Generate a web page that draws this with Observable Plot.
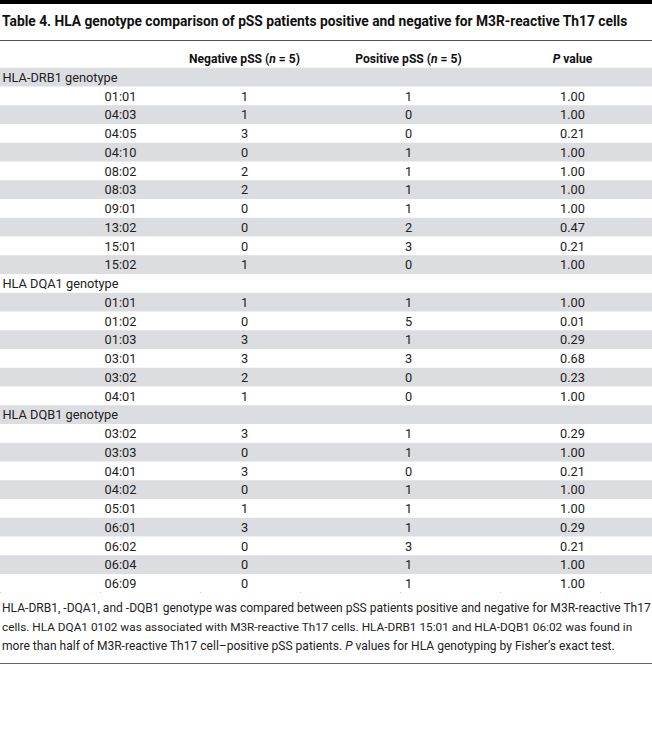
<!DOCTYPE html>
<html>
<head>
<meta charset="utf-8">
<script src="https://cdn.jsdelivr.net/npm/d3@7"></script>
<script src="https://cdn.jsdelivr.net/npm/@observablehq/plot@0.6"></script>
<style>
  body { margin: 0; background: #fff; width: 652px; height: 732px; position: relative; overflow: hidden;
         font-family: Roboto, "Liberation Sans", sans-serif; color: #222; }
  #bar { position: absolute; left: 0; top: 0; width: 652px; height: 4px; background: #000; }
  #title { position: absolute; left: 2px; top: 12px; font-weight: bold; font-size: 13.5px; line-height: 18px; color: #111; }
  #rule1 { position: absolute; left: 0; top: 39.5px; width: 652px; height: 1px; background: #555; }
  #chart { position: absolute; left: 0; top: 49px; line-height: 0; }
  #note { position: absolute; left: 2px; top: 598.5px; width: 650px; font-size: 12.5px; line-height: 19px; color: #222; }
  .fit { white-space: nowrap; width: max-content; }
  #rule2 { position: absolute; left: 0; top: 662.5px; width: 652px; height: 1.5px; background: #666; }
</style>
</head>
<body>
<div id="bar"></div>
<div id="title" class="fit" data-w="626">Table 4. HLA genotype comparison of pSS patients positive and negative for M3R-reactive Th17 cells</div>
<div id="rule1"></div>
<div id="chart"></div>
<div id="note">
  <div class="fit" data-w="649">HLA-DRB1, -DQA1, and -DQB1 genotype was compared between pSS patients positive and negative for M3R-reactive Th17</div>
  <div class="fit" data-w="631">cells. HLA DQA1 0102 was associated with M3R-reactive Th17 cells. HLA-DRB1 15:01 and HLA-DQB1 06:02 was found in</div>
  <div class="fit" data-w="613">more than half of M3R-reactive Th17 cell–positive pSS patients. <i>P</i> values for HLA genotyping by Fisher’s exact test.</div>
</div>
<div id="rule2"></div>
<script>
// ---- data ----
const columns = ["allele", "neg", "pos", "p"];
const headerLabels = ["", "Negative pSS (n = 5)", "Positive pSS (n = 5)", "P value"];

const groupNames = ["HLA-DRB1 genotype", "HLA DQA1 genotype", "HLA DQB1 genotype"];

const drb1Alleles = ["01:01", "04:03", "04:05", "04:10", "08:02", "08:03", "09:01", "13:02", "15:01", "15:02"];
const drb1Neg     = [1, 1, 3, 0, 2, 2, 0, 0, 0, 1];
const drb1Pos     = [1, 0, 0, 1, 1, 1, 1, 2, 3, 0];
const drb1P       = ["1.00", "1.00", "0.21", "1.00", "1.00", "1.00", "1.00", "0.47", "0.21", "1.00"];

const dqa1Alleles = ["01:01", "01:02", "01:03", "03:01", "03:02", "04:01"];
const dqa1Neg     = [1, 0, 3, 3, 2, 1];
const dqa1Pos     = [1, 5, 1, 3, 0, 0];
const dqa1P       = ["1.00", "0.01", "0.29", "0.68", "0.23", "1.00"];

const dqb1Alleles = ["03:02", "03:03", "04:01", "04:02", "05:01", "06:01", "06:02", "06:04", "06:09"];
const dqb1Neg     = [3, 0, 3, 0, 1, 3, 0, 0, 0];
const dqb1Pos     = [1, 1, 0, 1, 1, 1, 3, 1, 1];
const dqb1P       = ["0.29", "1.00", "0.21", "1.00", "1.00", "0.29", "0.21", "1.00", "1.00"];

// ---- layout (not data) ----
const colCenter = {allele: 120, neg: 244, pos: 408, p: 572};

// ---- build table rows ----
const groups = [
  [drb1Alleles, drb1Neg, drb1Pos, drb1P],
  [dqa1Alleles, dqa1Neg, dqa1Pos, dqa1P],
  [dqb1Alleles, dqb1Neg, dqb1Pos, dqb1P]
];
const groupRows = [];
const cells = [];
let idx = 0;
groups.forEach(([al, ng, ps, pv], g) => {
  groupRows.push({i: idx, label: groupNames[g]});
  idx++;
  al.forEach((a, k) => {
    const vals = [a, String(ng[k]), String(ps[k]), pv[k]];
    vals.forEach((v, c) => cells.push({i: idx, col: columns[c], text: v}));
    idx++;
  });
});
const nRows = idx;
const rowIds = d3.range(-1, nRows);
const shaded = d3.range(0, nRows).filter(i => i % 2 === 0).map(i => ({i}));
const headerCells = columns.map((c, k) => ({i: -1, col: c, text: headerLabels[k]})).filter(d => d.text);

const rowH = 18.75;
const chart = Plot.plot({
  width: 652,
  height: rowIds.length * rowH,
  margin: 0,
  style: {fontFamily: 'Roboto, "Liberation Sans", sans-serif', fontSize: "13px", color: "#222", background: "transparent"},
  x: {type: "identity"},
  y: {type: "band", domain: rowIds, padding: 0, round: false, axis: null},
  marks: [
    Plot.cell(shaded, {y: "i", fill: "#dcdde0"}),
    Plot.text(headerCells, {x: d => colCenter[d.col], y: "i", text: "text", fontWeight: "bold", fill: "#111"}),
    Plot.text(groupRows, {y: "i", text: "label", frameAnchor: "left", textAnchor: "start", dx: 2}),
    Plot.text(cells, {x: d => colCenter[d.col], y: "i", text: "text"})
  ]
});

// italicise n and P in header labels
d3.select(chart).selectAll("text").each(function() {
  const t = this.textContent;
  if (t === "Negative pSS (n = 5)" || t === "Positive pSS (n = 5)") {
    const pre = t.slice(0, t.indexOf("(") + 1);
    this.textContent = "";
    const s = d3.select(this);
    s.append("tspan").text(pre);
    s.append("tspan").attr("font-style", "italic").text("n");
    s.append("tspan").text(" = 5)");
    this.classList.add("hdr");
  } else if (t === "P value") {
    this.textContent = "";
    const s = d3.select(this);
    s.append("tspan").attr("font-style", "italic").text("P");
    s.append("tspan").text(" value");
    this.classList.add("hdr");
  }
});
document.getElementById("chart").appendChild(chart);

// condense text horizontally to match the reference's narrow typeface
function condense(sel, factor) {
  sel.each(function() {
    const w = this.getComputedTextLength();
    if (w > 0) {
      this.setAttribute("textLength", (w * factor).toFixed(2));
      this.setAttribute("lengthAdjust", "spacingAndGlyphs");
    }
  });
}
const allText = d3.select(chart).selectAll("text");
const refLabel = allText.filter(function() { return this.textContent === "HLA-DRB1 genotype"; }).node();
const bodyFactor = refLabel ? 115 / refLabel.getComputedTextLength() : 0.88;
const refHdr = allText.filter(function() { return this.textContent === "Negative pSS (n = 5)"; }).node();
const hdrFactor = refHdr ? 111 / refHdr.getComputedTextLength() : 0.85;
condense(allText.filter(function() { return !this.classList.contains("hdr"); }), bodyFactor);
condense(allText.filter(function() { return this.classList.contains("hdr"); }), hdrFactor);

// fit title and note lines to the reference widths by font size
document.querySelectorAll(".fit").forEach(el => {
  const w = el.getBoundingClientRect().width;
  const target = +el.dataset.w;
  const fs = parseFloat(getComputedStyle(el).fontSize);
  if (w > 0) el.style.fontSize = (fs * target / w).toFixed(2) + "px";
});
</script>
</body>
</html>
